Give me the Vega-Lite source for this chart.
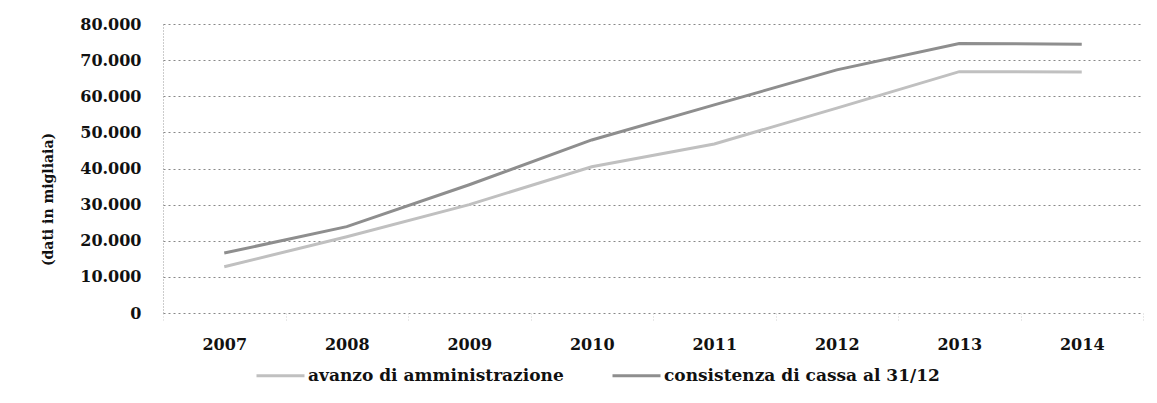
{
  "$schema": "https://vega.github.io/schema/vega-lite/v6.json",
  "width": 980,
  "height": 289,
  "autosize": "none",
  "padding": {"left": 163, "top": 24, "right": 14, "bottom": 90},
  "background": "white",
  "data": {
    "values": [
      {"anno": "2007", "serie": "avanzo di amministrazione", "valore": 12800},
      {"anno": "2008", "serie": "avanzo di amministrazione", "valore": 21100},
      {"anno": "2009", "serie": "avanzo di amministrazione", "valore": 30000},
      {"anno": "2010", "serie": "avanzo di amministrazione", "valore": 40500},
      {"anno": "2011", "serie": "avanzo di amministrazione", "valore": 46800},
      {"anno": "2012", "serie": "avanzo di amministrazione", "valore": 56700},
      {"anno": "2013", "serie": "avanzo di amministrazione", "valore": 66800},
      {"anno": "2014", "serie": "avanzo di amministrazione", "valore": 66700},
      {"anno": "2007", "serie": "consistenza di cassa al 31/12", "valore": 16600},
      {"anno": "2008", "serie": "consistenza di cassa al 31/12", "valore": 23900},
      {"anno": "2009", "serie": "consistenza di cassa al 31/12", "valore": 35500},
      {"anno": "2010", "serie": "consistenza di cassa al 31/12", "valore": 47900},
      {"anno": "2011", "serie": "consistenza di cassa al 31/12", "valore": 57600},
      {"anno": "2012", "serie": "consistenza di cassa al 31/12", "valore": 67300},
      {"anno": "2013", "serie": "consistenza di cassa al 31/12", "valore": 74600},
      {"anno": "2014", "serie": "consistenza di cassa al 31/12", "valore": 74400}
    ]
  },
  "mark": {"type": "line", "strokeWidth": 3},
  "encoding": {
    "x": {
      "field": "anno",
      "type": "ordinal",
      "bandPosition": 0.5,
      "scale": {"type": "band", "paddingInner": 0, "paddingOuter": 0},
      "axis": {
        "title": null,
        "labelAngle": 0,
        "domain": false,
        "ticks": true,
        "tickBand": "extent",
        "tickSize": 8,
        "tickColor": "#d0d0d0",
        "tickDash": [1, 2],
        "labelPadding": 15,
        "labelFont": "DejaVu Serif",
        "labelFontWeight": "bold",
        "labelFontSize": 16,
        "labelColor": "#111111",
        "grid": false
      }
    },
    "y": {
      "field": "valore",
      "type": "quantitative",
      "scale": {"domain": [0, 80000], "nice": false},
      "axis": {
        "values": [0, 10000, 20000, 30000, 40000, 50000, 60000, 70000, 80000],
        "labelExpr": "replace(format(datum.value, ','), /,/g, '.')",
        "ticks": false,
        "labelPadding": 22,
        "labelFont": "DejaVu Serif",
        "labelFontWeight": "bold",
        "labelFontSize": 16,
        "labelColor": "#111111",
        "domain": true,
        "domainColor": "#999999",
        "domainDash": [1, 2],
        "grid": true,
        "gridColor": "#888888",
        "gridDash": [2, 3],
        "gridWidth": 1,
        "title": "(dati in migliaia)",
        "titleFont": "DejaVu Serif",
        "titleFontWeight": "bold",
        "titleFontSize": 14,
        "titleColor": "#111111",
        "titleAngle": -90,
        "titleX": -115,
        "titleY": 175,
        "titleAlign": "center",
        "titleBaseline": "middle"
      }
    },
    "color": {
      "field": "serie",
      "type": "nominal",
      "scale": {
        "domain": ["avanzo di amministrazione", "consistenza di cassa al 31/12"],
        "range": ["#c0c0c0", "#8e8e8e"]
      },
      "legend": {
        "title": null,
        "orient": "none",
        "direction": "horizontal",
        "legendX": 92,
        "legendY": 326,
        "symbolType": "stroke",
        "symbolSize": 2304,
        "symbolStrokeWidth": 3,
        "symbolOffset": 0,
        "labelOffset": 2,
        "columnPadding": 42,
        "labelFont": "DejaVu Serif",
        "labelFontWeight": "bold",
        "labelFontSize": 17,
        "labelColor": "#111111",
        "labelLimit": 400
      }
    }
  },
  "config": {
    "view": {"stroke": null}
  }
}
